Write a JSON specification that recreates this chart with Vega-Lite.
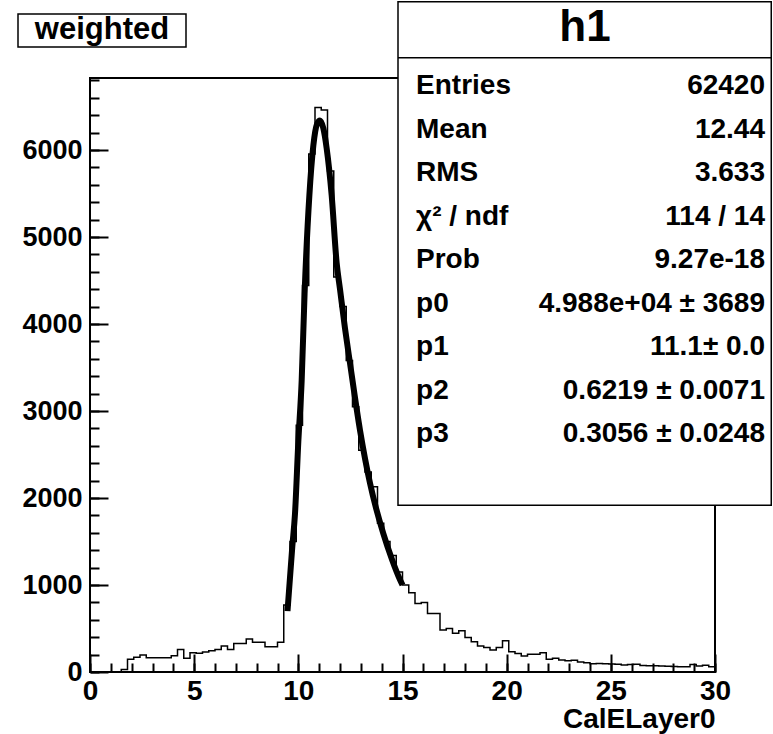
{
  "$schema": "https://vega.github.io/schema/vega-lite/v6.json",
  "width": 625,
  "height": 594,
  "autosize": "none",
  "padding": {"left": 90, "top": 78, "right": 58, "bottom": 62},
  "background": "white",
  "config": {
    "view": {"stroke": "black", "strokeWidth": 2},
    "font": "Liberation Sans",
    "axis": {"grid": false, "domain": false, "tickColor": "black", "labelColor": "black", "titleColor": "black", "labelFont": "Liberation Sans", "titleFont": "Liberation Sans", "labelFontWeight": "bold", "titleFontWeight": "bold"}
  },
  "datasets": {
    "hist": [
      {"lo": 0.0, "hi": 0.3, "count": 0}, {"lo": 0.3, "hi": 0.6, "count": 0}, {"lo": 0.6, "hi": 0.9, "count": 0}, {"lo": 0.9, "hi": 1.2, "count": 0}, {"lo": 1.2, "hi": 1.5, "count": 0},
      {"lo": 1.5, "hi": 1.8, "count": 30}, {"lo": 1.8, "hi": 2.1, "count": 146}, {"lo": 2.1, "hi": 2.4, "count": 169}, {"lo": 2.4, "hi": 2.7, "count": 195}, {"lo": 2.7, "hi": 3.0, "count": 164},
      {"lo": 3.0, "hi": 3.3, "count": 164}, {"lo": 3.3, "hi": 3.6, "count": 164}, {"lo": 3.6, "hi": 3.9, "count": 164}, {"lo": 3.9, "hi": 4.2, "count": 187}, {"lo": 4.2, "hi": 4.5, "count": 260},
      {"lo": 4.5, "hi": 4.8, "count": 157}, {"lo": 4.8, "hi": 5.1, "count": 222}, {"lo": 5.1, "hi": 5.4, "count": 215}, {"lo": 5.4, "hi": 5.7, "count": 230}, {"lo": 5.7, "hi": 6.0, "count": 245},
      {"lo": 6.0, "hi": 6.3, "count": 260}, {"lo": 6.3, "hi": 6.6, "count": 298}, {"lo": 6.6, "hi": 6.9, "count": 260}, {"lo": 6.9, "hi": 7.2, "count": 329}, {"lo": 7.2, "hi": 7.5, "count": 329},
      {"lo": 7.5, "hi": 7.8, "count": 379}, {"lo": 7.8, "hi": 8.1, "count": 341}, {"lo": 8.1, "hi": 8.4, "count": 341}, {"lo": 8.4, "hi": 8.7, "count": 291}, {"lo": 8.7, "hi": 9.0, "count": 291},
      {"lo": 9.0, "hi": 9.3, "count": 341}, {"lo": 9.3, "hi": 9.6, "count": 769}, {"lo": 9.6, "hi": 9.9, "count": 1500}, {"lo": 9.9, "hi": 10.2, "count": 2836}, {"lo": 10.2, "hi": 10.5, "count": 4443},
      {"lo": 10.5, "hi": 10.8, "count": 5955}, {"lo": 10.8, "hi": 11.1, "count": 6490}, {"lo": 11.1, "hi": 11.4, "count": 6460}, {"lo": 11.4, "hi": 11.7, "count": 5760}, {"lo": 11.7, "hi": 12.0, "count": 4540},
      {"lo": 12.0, "hi": 12.3, "count": 4200}, {"lo": 12.3, "hi": 12.6, "count": 3580}, {"lo": 12.6, "hi": 12.9, "count": 3050}, {"lo": 12.9, "hi": 13.2, "count": 2550}, {"lo": 13.2, "hi": 13.5, "count": 2300},
      {"lo": 13.5, "hi": 13.8, "count": 2130}, {"lo": 13.8, "hi": 14.1, "count": 1710}, {"lo": 14.1, "hi": 14.4, "count": 1500}, {"lo": 14.4, "hi": 14.7, "count": 1340}, {"lo": 14.7, "hi": 15.0, "count": 1150},
      {"lo": 15.0, "hi": 15.3, "count": 1000}, {"lo": 15.3, "hi": 15.6, "count": 911}, {"lo": 15.6, "hi": 15.9, "count": 788}, {"lo": 15.9, "hi": 16.2, "count": 800}, {"lo": 16.2, "hi": 16.5, "count": 673},
      {"lo": 16.5, "hi": 16.8, "count": 673}, {"lo": 16.8, "hi": 17.1, "count": 482}, {"lo": 17.1, "hi": 17.4, "count": 501}, {"lo": 17.4, "hi": 17.7, "count": 444}, {"lo": 17.7, "hi": 18.0, "count": 474},
      {"lo": 18.0, "hi": 18.3, "count": 398}, {"lo": 18.3, "hi": 18.6, "count": 348}, {"lo": 18.6, "hi": 18.9, "count": 298}, {"lo": 18.9, "hi": 19.2, "count": 283}, {"lo": 19.2, "hi": 19.5, "count": 253},
      {"lo": 19.5, "hi": 19.8, "count": 283}, {"lo": 19.8, "hi": 20.1, "count": 360}, {"lo": 20.1, "hi": 20.4, "count": 233}, {"lo": 20.4, "hi": 20.7, "count": 214}, {"lo": 20.7, "hi": 21.0, "count": 184},
      {"lo": 21.0, "hi": 21.3, "count": 203}, {"lo": 21.3, "hi": 21.6, "count": 203}, {"lo": 21.6, "hi": 21.9, "count": 222}, {"lo": 21.9, "hi": 22.2, "count": 146}, {"lo": 22.2, "hi": 22.5, "count": 157},
      {"lo": 22.5, "hi": 22.8, "count": 138}, {"lo": 22.8, "hi": 23.1, "count": 130}, {"lo": 23.1, "hi": 23.4, "count": 135}, {"lo": 23.4, "hi": 23.7, "count": 115}, {"lo": 23.7, "hi": 24.0, "count": 105},
      {"lo": 24.0, "hi": 24.3, "count": 95}, {"lo": 24.3, "hi": 24.6, "count": 97}, {"lo": 24.6, "hi": 24.9, "count": 95}, {"lo": 24.9, "hi": 25.2, "count": 92}, {"lo": 25.2, "hi": 25.5, "count": 88},
      {"lo": 25.5, "hi": 25.8, "count": 80}, {"lo": 25.8, "hi": 26.1, "count": 85}, {"lo": 26.1, "hi": 26.4, "count": 88}, {"lo": 26.4, "hi": 26.7, "count": 75}, {"lo": 26.7, "hi": 27.0, "count": 72},
      {"lo": 27.0, "hi": 27.3, "count": 72}, {"lo": 27.3, "hi": 27.6, "count": 68}, {"lo": 27.6, "hi": 27.9, "count": 65}, {"lo": 27.9, "hi": 28.2, "count": 62}, {"lo": 28.2, "hi": 28.5, "count": 60},
      {"lo": 28.5, "hi": 28.8, "count": 60}, {"lo": 28.8, "hi": 29.1, "count": 85}, {"lo": 29.1, "hi": 29.4, "count": 68}, {"lo": 29.4, "hi": 29.7, "count": 78}, {"lo": 29.7, "hi": 30.0, "count": 60}
    ],
    "fit": [
      {"x": 9.48, "f": 700}, {"x": 9.71, "f": 1440}, {"x": 9.84, "f": 1820}, {"x": 10.0, "f": 2650}, {"x": 10.16, "f": 3350},
      {"x": 10.3, "f": 4350}, {"x": 10.53, "f": 5480}, {"x": 10.72, "f": 6050}, {"x": 10.9, "f": 6300}, {"x": 11.04, "f": 6340},
      {"x": 11.2, "f": 6250}, {"x": 11.36, "f": 6020}, {"x": 11.6, "f": 5480}, {"x": 11.84, "f": 4700}, {"x": 12.0, "f": 4400},
      {"x": 12.24, "f": 3950}, {"x": 12.48, "f": 3550}, {"x": 12.96, "f": 2780}, {"x": 13.44, "f": 2170}, {"x": 14.08, "f": 1590},
      {"x": 14.5, "f": 1290}, {"x": 14.88, "f": 1060}, {"x": 15.0, "f": 1000}
    ],
    "stats": [
      {"name": "Entries", "value": "62420"},
      {"name": "Mean", "value": "12.44"},
      {"name": "RMS", "value": "3.633"},
      {"name": "χ² / ndf", "value": "114 / 14"},
      {"name": "Prob", "value": "9.27e-18"},
      {"name": "p0", "value": "4.988e+04 ± 3689"},
      {"name": "p1", "value": "11.1± 0.0"},
      {"name": "p2", "value": "0.6219 ± 0.0071"},
      {"name": "p3", "value": "0.3056 ± 0.0248"}
    ],
    "labels": [{"title": "weighted", "stat": "h1"}]
  },
  "layer": [
    {
      "layer": [
        {
          "data": {"name": "hist"},
          "mark": {"type": "line", "interpolate": "step-before", "color": "black", "strokeWidth": 1.5},
          "encoding": {
            "x": {"field": "hi", "type": "quantitative", "scale": {"domain": [0, 30], "nice": false, "zero": false},
              "axis": {"orient": "bottom", "values": [0, 5, 10, 15, 20, 25, 30], "format": "d", "tickSize": -18, "tickWidth": 2, "labelFontSize": 28, "labelPadding": 23, "labelFlush": false, "labelOverlap": false, "title": "CalELayer0", "titleFontSize": 28, "titleAnchor": "end", "titlePadding": 0}},
            "y": {"field": "count", "type": "quantitative", "scale": {"domain": [0, 6828], "nice": false, "zero": true},
              "axis": {"orient": "left", "values": [0, 1000, 2000, 3000, 4000, 5000, 6000], "format": "d", "tickSize": -18, "tickWidth": 2, "labelFontSize": 27, "labelPadding": 26, "labelOverlap": false, "title": null}}
          }
        },
        {
          "data": {"name": "fit"},
          "mark": {"type": "line", "interpolate": "monotone", "color": "black", "strokeWidth": 6, "strokeCap": "butt"},
          "encoding": {
            "x": {"field": "x", "type": "quantitative", "scale": {"domain": [0, 30], "nice": false, "zero": false},
              "axis": {"orient": "bottom", "values": [0,1,2,3,4,5,6,7,8,9,10,11,12,13,14,15,16,17,18,19,20,21,22,23,24,25,26,27,28,29,30], "tickSize": -9, "tickWidth": 2, "labels": false, "title": null}},
            "y": {"field": "f", "type": "quantitative", "scale": {"domain": [0, 6828], "nice": false, "zero": true},
              "axis": {"orient": "left", "values": [0,200,400,600,800,1000,1200,1400,1600,1800,2000,2200,2400,2600,2800,3000,3200,3400,3600,3800,4000,4200,4400,4600,4800,5000,5200,5400,5600,5800,6000,6200,6400,6600,6800], "tickSize": -9, "tickWidth": 2, "labels": false, "title": null}}
          }
        },
        {
          "data": {"name": "labels"},
          "mark": {"type": "rect", "fill": "white", "stroke": "black", "strokeWidth": 1.5},
          "encoding": {
            "x": {"datum": 14.784, "type": "quantitative", "scale": {"domain": [0, 30], "nice": false, "zero": false}, "axis": null},
            "x2": {"datum": 32.7},
            "y": {"datum": 1917, "type": "quantitative", "scale": {"domain": [0, 6828], "nice": false, "zero": true}, "axis": null},
            "y2": {"datum": 7705}
          }
        },
        {
          "data": {"name": "labels"},
          "mark": {"type": "rule", "color": "black", "strokeWidth": 1.5},
          "encoding": {
            "x": {"datum": 14.784, "type": "quantitative", "scale": {"domain": [0, 30], "nice": false, "zero": false}, "axis": null},
            "x2": {"datum": 32.7},
            "y": {"datum": 7061, "type": "quantitative", "scale": {"domain": [0, 6828], "nice": false, "zero": true}, "axis": null}
          }
        },
        {
          "data": {"name": "labels"},
          "mark": {"type": "text", "font": "Liberation Sans", "fontWeight": "bold", "fontSize": 44, "align": "center", "baseline": "middle", "color": "black"},
          "encoding": {
            "x": {"datum": 23.76, "type": "quantitative", "scale": {"domain": [0, 30], "nice": false, "zero": false}, "axis": null},
            "y": {"datum": 7402, "type": "quantitative", "scale": {"domain": [0, 6828], "nice": false, "zero": true}, "axis": null},
            "text": {"field": "stat"}
          }
        },
        {
          "data": {"name": "labels"},
          "mark": {"type": "rect", "fill": "white", "stroke": "black", "strokeWidth": 1.5},
          "encoding": {
            "x": {"datum": -3.456, "type": "quantitative", "scale": {"domain": [0, 30], "nice": false, "zero": false}, "axis": null},
            "x2": {"datum": 4.608},
            "y": {"datum": 7184, "type": "quantitative", "scale": {"domain": [0, 6828], "nice": false, "zero": true}, "axis": null},
            "y2": {"datum": 7563}
          }
        },
        {
          "data": {"name": "labels"},
          "mark": {"type": "text", "font": "Liberation Sans", "fontWeight": "bold", "fontSize": 31, "align": "center", "baseline": "middle", "color": "black"},
          "encoding": {
            "x": {"datum": 0.576, "type": "quantitative", "scale": {"domain": [0, 30], "nice": false, "zero": false}, "axis": null},
            "y": {"datum": 7379, "type": "quantitative", "scale": {"domain": [0, 6828], "nice": false, "zero": true}, "axis": null},
            "text": {"field": "title"}
          }
        }
      ],
      "resolve": {"axis": {"x": "independent", "y": "independent"}}
    },
    {
      "data": {"name": "stats"},
      "layer": [
        {
          "mark": {"type": "text", "font": "Liberation Sans", "fontWeight": "bold", "fontSize": 28, "align": "left", "baseline": "middle", "color": "black"},
          "encoding": {
            "x": {"datum": 15.65, "type": "quantitative", "scale": {"domain": [0, 30], "nice": false, "zero": false}, "axis": null},
            "y": {"field": "name", "type": "ordinal", "scale": {"type": "point", "domain": ["Entries", "Mean", "RMS", "χ² / ndf", "Prob", "p0", "p1", "p2", "p3"], "range": [8, 356], "padding": 0}, "axis": null},
            "text": {"field": "name"}
          }
        },
        {
          "mark": {"type": "text", "font": "Liberation Sans", "fontWeight": "bold", "fontSize": 28, "align": "right", "baseline": "middle", "color": "black"},
          "encoding": {
            "x": {"datum": 32.4, "type": "quantitative", "scale": {"domain": [0, 30], "nice": false, "zero": false}, "axis": null},
            "y": {"field": "name", "type": "ordinal", "scale": {"type": "point", "domain": ["Entries", "Mean", "RMS", "χ² / ndf", "Prob", "p0", "p1", "p2", "p3"], "range": [8, 356], "padding": 0}, "axis": null},
            "text": {"field": "value"}
          }
        }
      ]
    }
  ],
  "resolve": {"scale": {"y": "independent"}, "axis": {"x": "independent", "y": "independent"}}
}
